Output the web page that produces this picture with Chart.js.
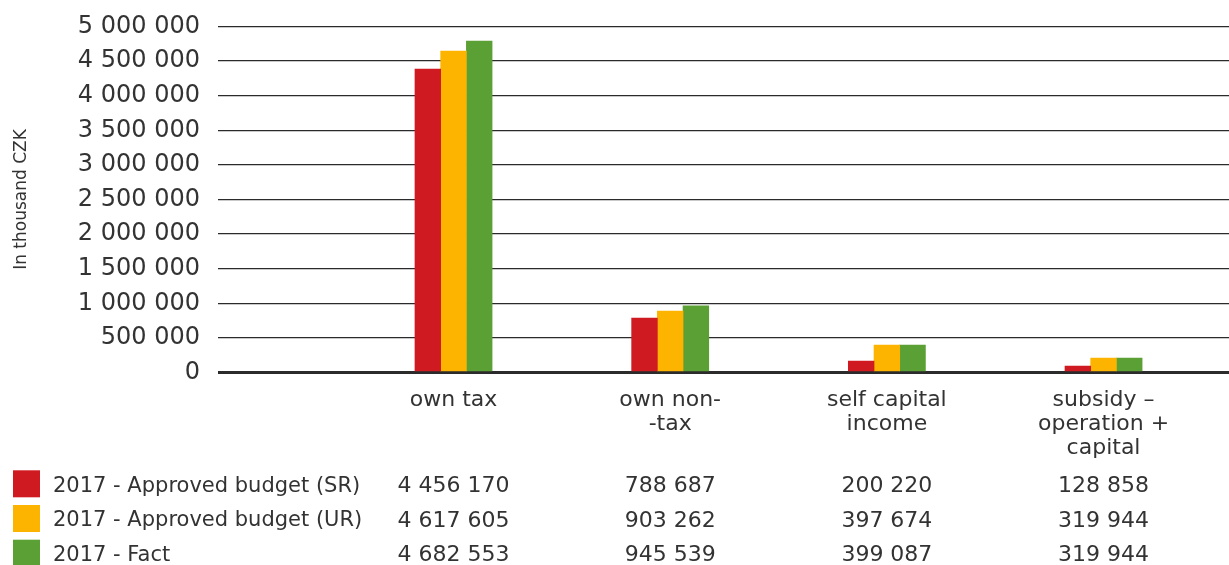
<!DOCTYPE html>
<html><head><meta charset="utf-8">
<script src="https://cdn.jsdelivr.net/npm/chart.js@4"></script>
<style>html,body{margin:0;padding:0;background:#fff;} canvas{display:block;}</style>
</head><body>
<canvas id="c" width="1229" height="565"></canvas>
<script>
const categories = [['own tax'], ['own non-', '-tax'], ['self capital', 'income'], ['subsidy –', 'operation +', 'capital']];
const seriesNames = ['2017 - Approved budget (SR)', '2017 - Approved budget (UR)', '2017 - Fact'];
// bar heights
const approvedSR = [4386000, 788000, 166000, 94000];
const approvedUR = [4646000, 889000, 397000, 210000];
const fact = [4790000, 965000, 397000, 210000];
// values printed in the data table
const tableSR = [4456170, 788687, 200220, 128858];
const tableUR = [4617605, 903262, 397674, 319944];
const tableFact = [4682553, 945539, 399087, 319944];
const yTicks = [0, 500000, 1000000, 1500000, 2000000, 2500000, 3000000, 3500000, 4000000, 4500000, 5000000];
const colors = ['#CF1A21', '#FDB400', '#5BA034'];

const fmt = v => String(v).replace(/\B(?=(\d{3})+(?!\d))/g, ' ');
const FONT = '"DejaVu Sans", sans-serif';
Chart.defaults.font.family = FONT;
Chart.defaults.color = '#333';

const tablePlugin = {
  id: 'dataTable',
  afterDraw(chart) {
    const ctx = chart.ctx, xs = chart.scales.x;
    const rows = [tableSR, tableUR, tableFact];
    ctx.save();
    rows.forEach((row, r) => {
      const mid = 483.8 + r * 34.7;
      ctx.fillStyle = colors[r];
      ctx.fillRect(13, mid - 13.5, 27, 27);
      ctx.fillStyle = '#333';
      ctx.textBaseline = 'alphabetic';
      ctx.font = '21px ' + FONT;
      ctx.textAlign = 'left';
      ctx.fillText(seriesNames[r], 53, mid + 7.7);
      ctx.font = '22px ' + FONT;
      ctx.textAlign = 'center';
      row.forEach((v, i) => ctx.fillText(fmt(v), xs.getPixelForValue(i + 1), mid + 8));
    });
    ctx.restore();
  }
};

new Chart(document.getElementById('c'), {
  type: 'bar',
  data: {
    datasets: [approvedSR, approvedUR, fact].map((arr, k) => ({
      label: seriesNames[k],
      data: arr.map((v, i) => ({x: i + 1, y: v})),
      backgroundColor: colors[k],
      barThickness: 25.7
    }))
  },
  options: {
    responsive: false, animation: false, events: [],
    layout: {padding: {top: 26.5, left: 0, right: 0, bottom: 0}},
    plugins: {legend: {display: false}, tooltip: {enabled: false}},
    scales: {
      x: {
        type: 'linear', min: -0.087, max: 4.579, offset: false,
        afterBuildTicks: a => { a.ticks = categories.map((c, i) => ({value: i + 1})); },
        afterFit: a => { a.height = 192.5; a.paddingLeft = 0; a.paddingRight = 0; },
        grid: {display: false, offset: false}, border: {display: false},
        ticks: {autoSkip: false, maxRotation: 0, minRotation: 0, padding: 8, color: '#333',
          font: {size: 22, lineHeight: '24px'},
          callback: v => categories[v - 1] || ''}
      },
      y: {
        min: 0, max: 5000000,
        afterBuildTicks: a => { a.ticks = yTicks.map(v => ({value: v})); },
        afterFit: a => { a.width = 218; a.paddingTop = 0; a.paddingBottom = 0; },
        grid: {color: '#2b2b2b', lineWidth: c => (c.tick && c.tick.value === 0) ? 3 : 1.3, drawTicks: false},
        border: {display: false},
        ticks: {padding: 18, color: '#333', font: {size: 24}, callback: v => fmt(v)},
        title: {display: true, text: 'In thousand CZK', color: '#333', font: {size: 17}, padding: {top: 11, bottom: 0}}
      }
    }
  },
  plugins: [tablePlugin]
});
</script>
</body></html>
